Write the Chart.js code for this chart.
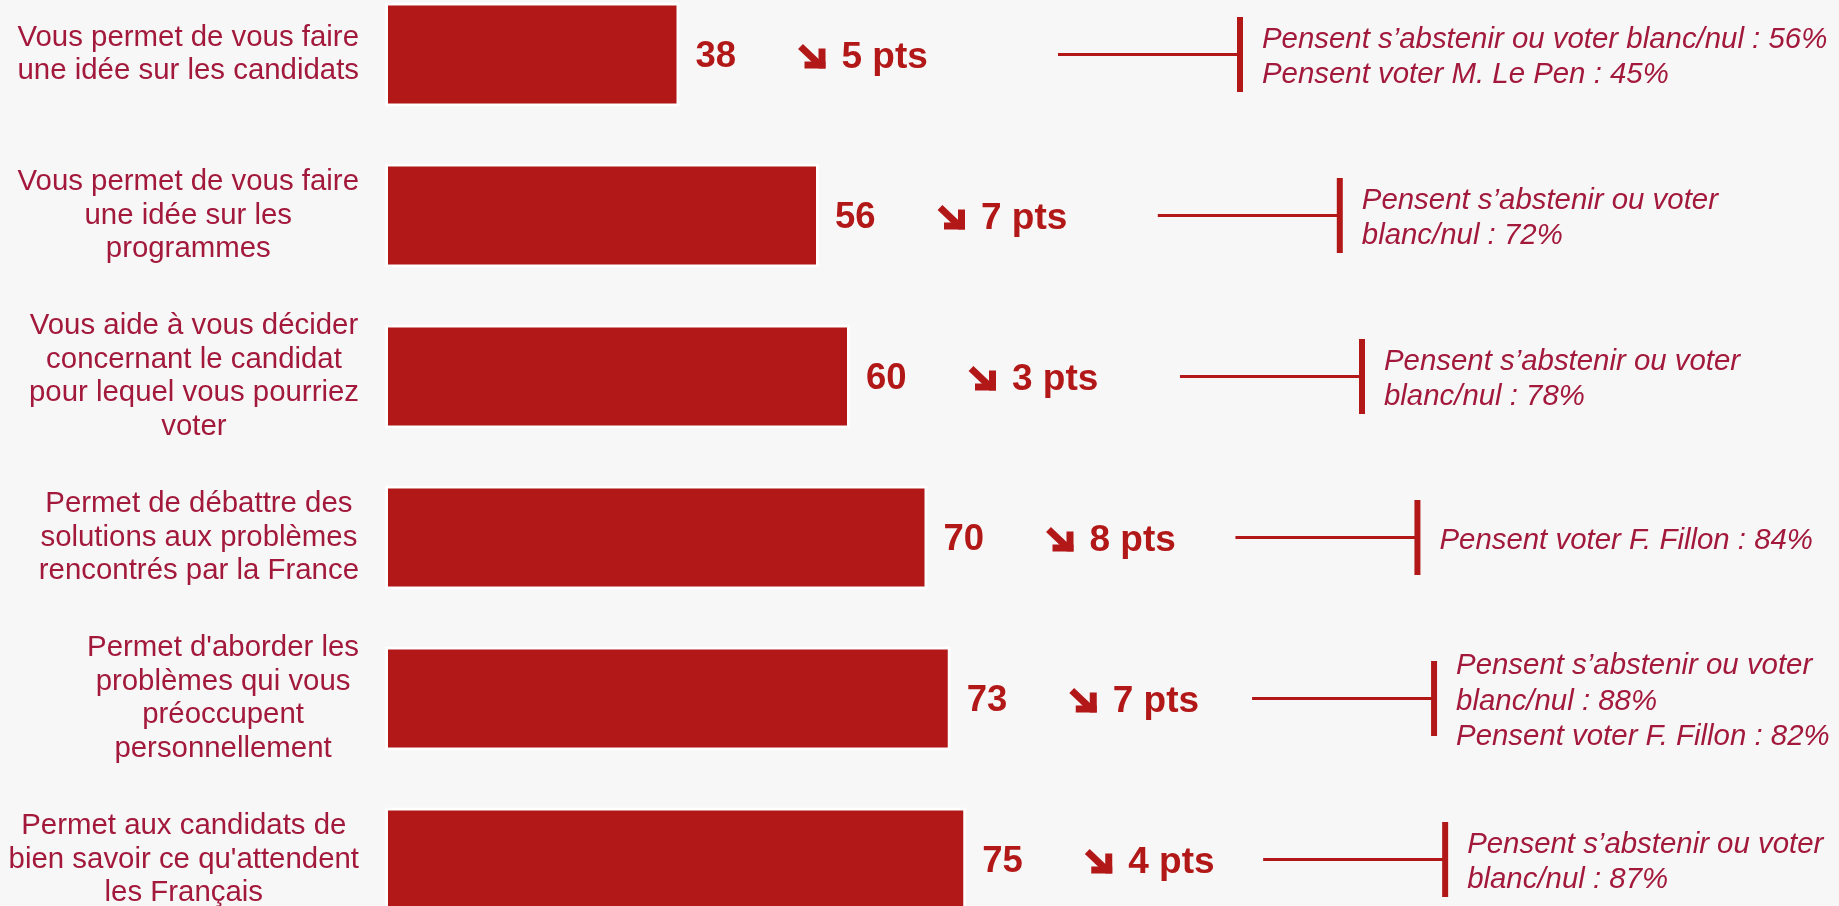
<!DOCTYPE html>
<html><head><meta charset="utf-8">
<script src="https://cdn.jsdelivr.net/npm/chart.js@4.4.1/dist/chart.umd.min.js"></script>
<style>
html,body{margin:0;padding:0;background:#F7F7F7;overflow:hidden;width:1839px;height:906px}
#wrap{position:absolute;left:0;top:-26px;width:1839px;height:966px}
</style></head><body>
<div id="wrap"><canvas id="c"></canvas></div>
<script>
const categories = [
  ["Vous permet de vous faire", "une idée sur les candidats"],
  ["Vous permet de vous faire", "une idée sur les", "programmes"],
  ["Vous aide à vous décider", "concernant le candidat", "pour lequel vous pourriez", "voter"],
  ["Permet de débattre des", "solutions aux problèmes", "rencontrés par la France"],
  ["Permet d'aborder les", "problèmes qui vous", "préoccupent", "personnellement"],
  ["Permet aux candidats de", "bien savoir ce qu'attendent", "les Français"]
];
const values = [38, 56, 60, 70, 73, 75];
const changes = [5, 7, 3, 8, 7, 4];
const changeUnit = "pts";
const callouts = [
  ["Pensent s’abstenir ou voter blanc/nul : 56%", "Pensent voter M. Le Pen : 45%"],
  ["Pensent s’abstenir ou voter", "blanc/nul : 72%"],
  ["Pensent s’abstenir ou voter", "blanc/nul : 78%"],
  ["Pensent voter F. Fillon : 84%"],
  ["Pensent s’abstenir ou voter", "blanc/nul : 88%", "Pensent voter F. Fillon : 82%"],
  ["Pensent s’abstenir ou voter", "blanc/nul : 87%"]
];

const RED = '#B31818';
const CRIMSON = '#A3193C';
const FONT = '"Liberation Sans", Arial, Helvetica, sans-serif';

const annot = {
  id: 'annot',
  afterDatasetsDraw(chart) {
    const ctx = chart.ctx;
    const meta = chart.getDatasetMeta(0);
    const left = chart.chartArea.left;
    ctx.save();
    meta.data.forEach((bar, i) => {
      const xe = bar.x, yc = bar.y;
      // category label
      ctx.font = '29.4px ' + FONT;
      ctx.fillStyle = CRIMSON;
      ctx.textAlign = 'center';
      ctx.textBaseline = 'middle';
      const lines = categories[i];
      const w = Math.max(...lines.map(l => ctx.measureText(l).width));
      const cx = left - 26 - w / 2;
      lines.forEach((l, k) => ctx.fillText(l, cx, yc + (k - (lines.length - 1) / 2) * 33.6));
      // value
      ctx.font = 'bold 36.5px ' + FONT;
      ctx.fillStyle = RED;
      ctx.textAlign = 'left';
      ctx.fillText(String(values[i]), xe + 16, yc + 2);
      // arrow
      const ax = xe + 119, ay = yc + 2;
      ctx.fillRect(ax + 20, ay - 8, 7, 20);
      ctx.fillRect(ax + 6, ay + 5, 21, 7);
      ctx.strokeStyle = RED;
      ctx.lineWidth = 7;
      ctx.lineCap = 'butt';
      ctx.beginPath();
      ctx.moveTo(ax + 2, ay - 10);
      ctx.lineTo(ax + 22, ay + 9);
      ctx.stroke();
      ctx.font = 'bold 37px ' + FONT;
      ctx.fillText(changes[i] + ' ' + changeUnit, ax + 43, yc + 3);
      // callout
      const vx = 753.8 + 0.7155 * xe;
      ctx.lineWidth = 3;
      ctx.beginPath();
      ctx.moveTo(vx - 182, yc);
      ctx.lineTo(vx, yc);
      ctx.stroke();
      ctx.lineWidth = 6;
      ctx.beginPath();
      ctx.moveTo(vx, yc - 37.5);
      ctx.lineTo(vx, yc + 37.5);
      ctx.stroke();
      ctx.font = 'italic 29.4px ' + FONT;
      ctx.fillStyle = CRIMSON;
      const cl = callouts[i];
      cl.forEach((l, k) => ctx.fillText(l, vx + 22, yc + 3 + (k - (cl.length - 1) / 2) * 35.5));
    });
    ctx.restore();
  }
};

new Chart(document.getElementById('c'), {
  type: 'bar',
  data: {
    labels: categories,
    datasets: [{
      data: values,
      backgroundColor: RED,
      borderColor: '#FFFFFF',
      borderWidth: 3,
      borderSkipped: false,
      barPercentage: 0.646,
      categoryPercentage: 1
    }]
  },
  options: {
    indexAxis: 'y',
    responsive: true,
    maintainAspectRatio: false,
    animation: false,
    layout: { padding: { left: 385, right: 679, top: 0, bottom: 0 } },
    scales: {
      x: { display: false, min: 0, max: 100 },
      y: { display: false }
    },
    plugins: { legend: { display: false }, tooltip: { enabled: false } }
  },
  plugins: [annot]
});
</script>
</body></html>
